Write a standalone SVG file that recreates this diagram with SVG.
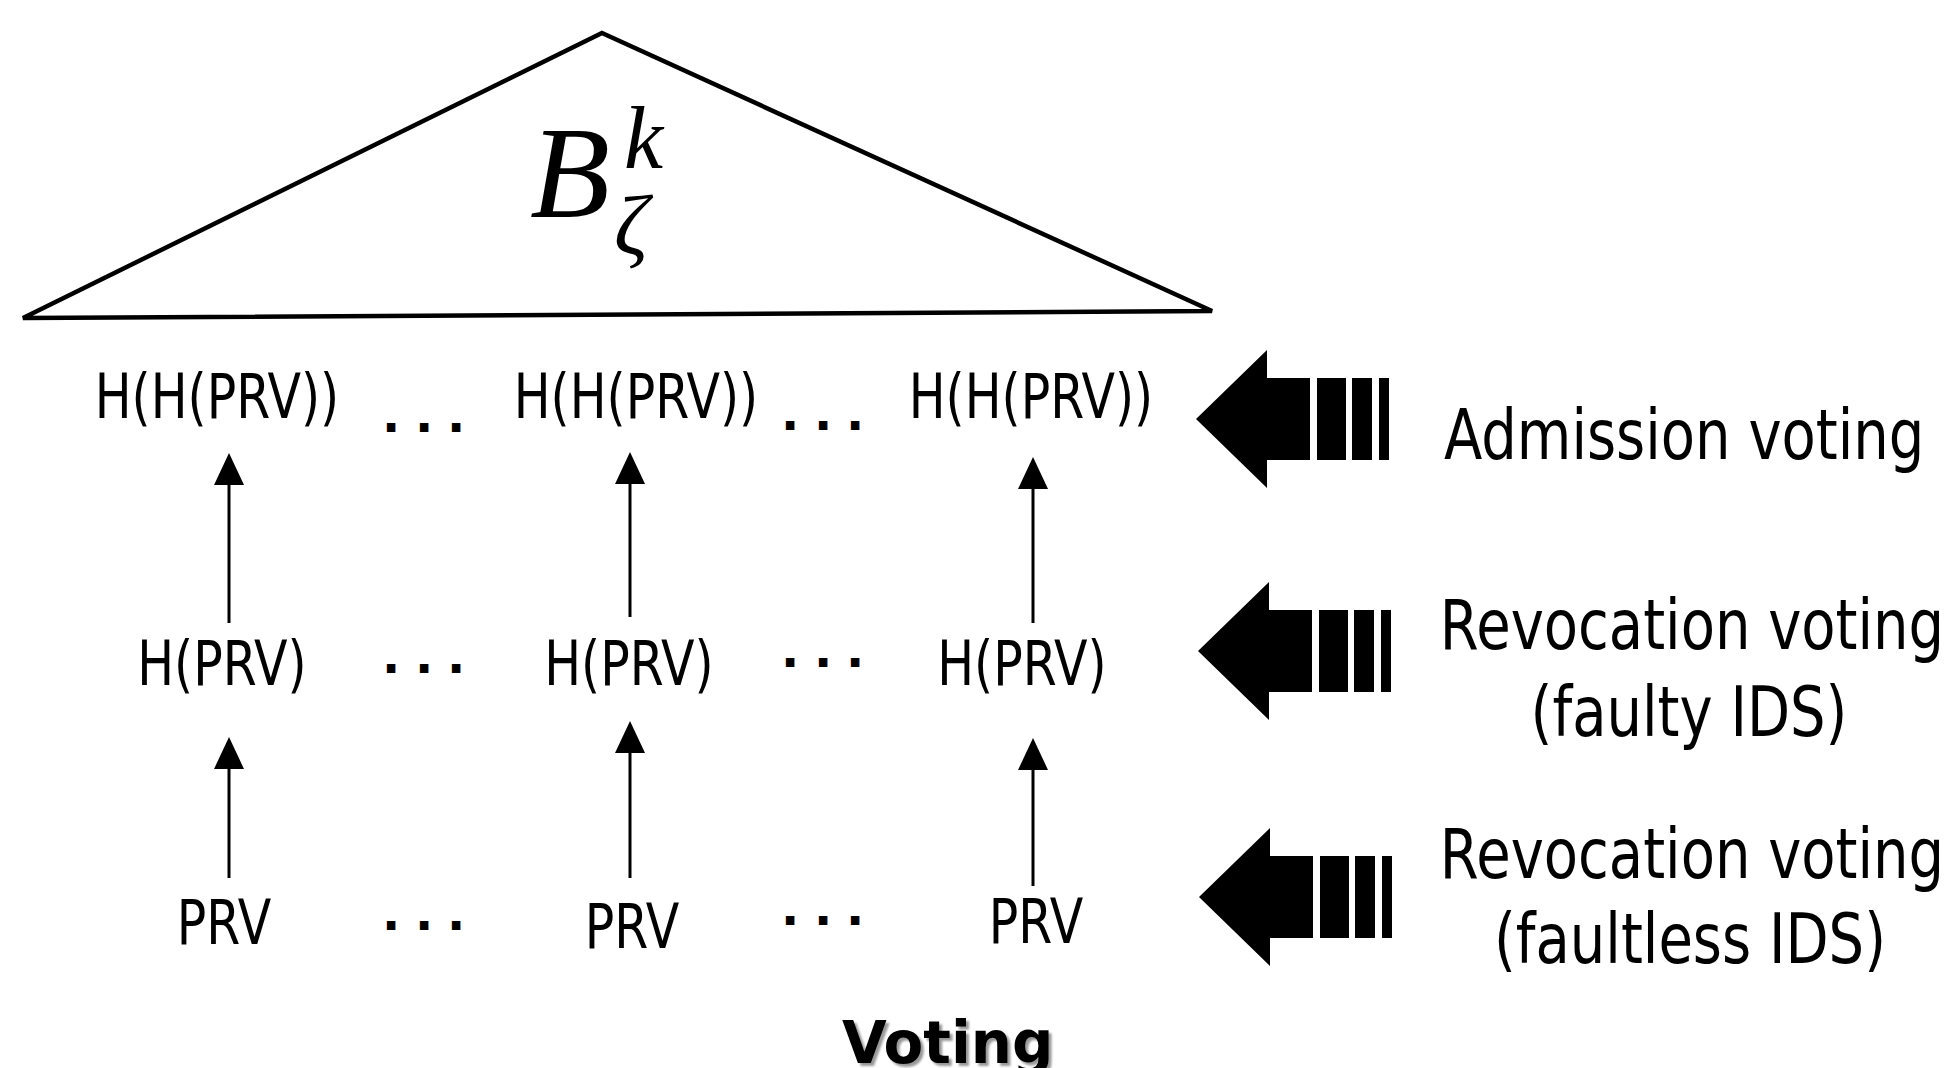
<svg xmlns="http://www.w3.org/2000/svg" width="1952" height="1068" viewBox="0 0 1952 1068">
<style>
.lbl{font-family:"DejaVu Sans","Liberation Sans",sans-serif;font-size:62px;fill:#000;text-anchor:middle}
.side{font-family:"DejaVu Sans","Liberation Sans",sans-serif;font-size:70px;fill:#000}
.dots{font-family:"DejaVu Sans",sans-serif;font-weight:bold;font-size:48px;fill:#000}
.math{font-family:"Liberation Serif","DejaVu Serif",serif;font-style:italic;fill:#000}
.conn{stroke:#000;stroke-width:3;fill:none}
.title{font-family:"DejaVu Sans",sans-serif;font-weight:bold;font-size:59px}
</style>
<defs>
<marker id="ah" viewBox="0 0 32 30" markerWidth="32" markerHeight="30" refX="0" refY="15" orient="auto" markerUnits="userSpaceOnUse">
<path d="M0,0 L32,15 L0,30 Z" fill="#000"/>
</marker>
<g id="bigArrow">
<path d="M0,0 L71,-69 L71,-41 L114,-41 L114,41 L71,41 L71,69 Z" fill="#000"/>
<rect x="121" y="-41" width="29" height="82" fill="#000"/>
<rect x="156" y="-41" width="20" height="82" fill="#000"/>
<rect x="183" y="-41" width="10" height="82" fill="#000"/>
</g>
<filter id="blur" x="-10%" y="-10%" width="120%" height="120%"><feGaussianBlur stdDeviation="1.2"/></filter>
</defs>
<rect width="1952" height="1068" fill="#fff"/>

<g id="tree">
<polygon points="602,33 1212,311 23,318" fill="none" stroke="#000" stroke-width="4.5" stroke-linejoin="miter"/>
<text class="math" x="530" y="217" font-size="131">B</text>
<text class="math" x="624" y="168" font-size="88">k</text>
<text class="math" x="614" y="254" font-size="85">ζ</text>
</g>

<g id="row1">
<text class="lbl" transform="translate(217,418) scale(0.79,1)">H(H(PRV))</text>
<text class="dots" x="382 415 447" y="432">...</text>
<text class="lbl" transform="translate(636,418) scale(0.79,1)">H(H(PRV))</text>
<text class="dots" x="781 814 846" y="430">...</text>
<text class="lbl" transform="translate(1031,418) scale(0.79,1)">H(H(PRV))</text>
</g>

<g id="row2">
<text class="lbl" transform="translate(222,685) scale(0.79,1)">H(PRV)</text>
<text class="dots" x="382 415 447" y="673">...</text>
<text class="lbl" transform="translate(629,685) scale(0.79,1)">H(PRV)</text>
<text class="dots" x="781 814 846" y="667">...</text>
<text class="lbl" transform="translate(1022,685) scale(0.79,1)">H(PRV)</text>
</g>

<g id="row3">
<text class="lbl" transform="translate(224,944) scale(0.79,1)">PRV</text>
<text class="dots" x="382 415 447" y="930">...</text>
<text class="lbl" transform="translate(632,948) scale(0.79,1)">PRV</text>
<text class="dots" x="781 814 846" y="925">...</text>
<text class="lbl" transform="translate(1036,943) scale(0.79,1)">PRV</text>
</g>

<g id="connectors">
<line class="conn" x1="229" y1="623" x2="229" y2="485" marker-end="url(#ah)"/>
<line class="conn" x1="630" y1="617" x2="630" y2="484" marker-end="url(#ah)"/>
<line class="conn" x1="1033" y1="623" x2="1033" y2="489" marker-end="url(#ah)"/>
<line class="conn" x1="229" y1="878" x2="229" y2="769" marker-end="url(#ah)"/>
<line class="conn" x1="630" y1="878" x2="630" y2="753" marker-end="url(#ah)"/>
<line class="conn" x1="1033" y1="886" x2="1033" y2="770" marker-end="url(#ah)"/>
</g>

<g id="admission">
<use href="#bigArrow" x="1196" y="419"/>
<text class="side" transform="translate(1444,459) scale(0.8,1)">Admission voting</text>
</g>

<g id="revocation-faulty">
<use href="#bigArrow" x="1198" y="651"/>
<text class="side" text-anchor="middle" transform="translate(1692,649) scale(0.8,1)">Revocation voting</text>
<text class="side" text-anchor="middle" transform="translate(1689,736) scale(0.8,1)">(faulty IDS)</text>
</g>

<g id="revocation-faultless">
<use href="#bigArrow" x="1199" y="897"/>
<text class="side" text-anchor="middle" transform="translate(1692,878) scale(0.8,1)">Revocation voting</text>
<text class="side" text-anchor="middle" transform="translate(1690,963) scale(0.8,1)">(faultless IDS)</text>
</g>

<g id="caption">
<text class="title" fill="#999" filter="url(#blur)" transform="translate(845,1066) scale(0.98,1)">Voting</text>
<text class="title" fill="#000" transform="translate(842,1063) scale(0.98,1)">Voting</text>
</g>
</svg>
